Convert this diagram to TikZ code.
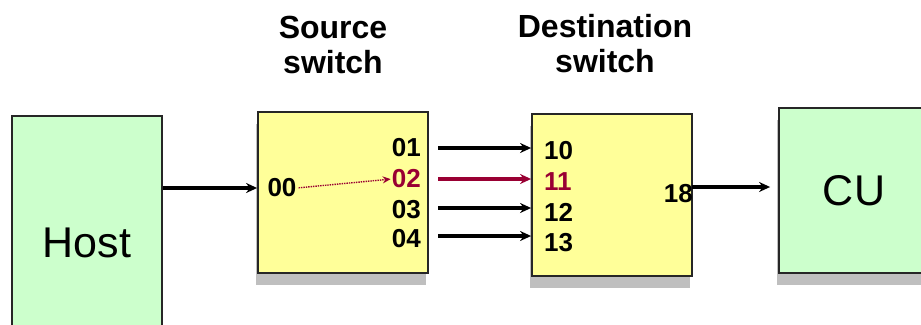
\documentclass[tikz,border=0pt]{standalone}
\usepackage{fontspec}
\setmainfont{Liberation Sans}
\usetikzlibrary{arrows.meta,positioning,shadows}
\definecolor{colorswitch}{HTML}{FFFF99}
\definecolor{colorend}{HTML}{CCFFCC}
\definecolor{colorpath}{HTML}{990033}
\tikzstyle{switchbox}=[rectangle, draw=black!85, line width=1.8pt, fill=colorswitch, inner sep=0pt, drop shadow={shadow xshift=-2pt, shadow yshift=-12pt, fill=black!25, opacity=1}]
\tikzstyle{endbox}=[rectangle, draw=black!85, line width=1.8pt, fill=colorend, inner sep=0pt, font=\fontsize{43}{46}\selectfont]
\tikzstyle{port}=[inner sep=0pt, font=\bfseries\fontsize{26}{28}\selectfont]
\tikzstyle{title}=[align=center, inner sep=0pt, font=\bfseries\fontsize{32}{35}\selectfont]
\tikzstyle{wire}=[->, line width=3.6pt]
\tikzstyle{dotpath}=[->, colorpath, line width=1.4pt, densely dotted, shorten <=2pt, shorten >=1pt, >={Stealth[length=8pt,width=7pt]}]
\begin{document}
\begin{tikzpicture}[x=1pt, y=-1pt, >={Stealth[length=11pt,width=10pt]}]
	\useasboundingbox (0,0) rectangle (921,324);
	\clip (0,0) rectangle (921,324);
	
	% boxes
	\node[endbox, minimum width=150pt, minimum height=254pt] at (87,243) (host) {Host};
	\node[switchbox, minimum width=170pt, minimum height=161pt] at (343,192.5) (src) {};
	\node[switchbox, minimum width=160pt, minimum height=162pt] at (612,195) (dst) {};
	\node[endbox, minimum width=150pt, minimum height=165pt, drop shadow={shadow xshift=-2pt, shadow yshift=-12pt, fill=black!25, opacity=1}] at (854,190.5) (cu) {CU};
	
	% titles
	\node[title] at (333,45) (srctitle) {Source\\switch};
	\node[title] at (605,44) (dsttitle) {Destination\\switch};
	
	% source switch ports
	\node[port] at (282,188) (p00) {00};
	\node[port, anchor=east] at (421,148) (p01) {01};
	\node[port, anchor=east, colorpath] at (421,179) (p02) {02};
	\node[port, anchor=east] at (421,210) (p03) {03};
	\node[port, anchor=east] at (421,239) (p04) {04};
	
	% destination switch ports
	\node[port, anchor=west] at (544,151) (p10) {10};
	\node[port, anchor=west, colorpath] at (544,182) (p11) {11};
	\node[port, anchor=west] at (544,212) (p12) {12};
	\node[port, anchor=west] at (544,243) (p13) {13};
	\node[port, anchor=east] at (693,194) (p18) {18};
	
	\draw[wire] (host.east |- p00) -- (p00 -| src.west);
	\draw[dotpath] (p00.east) -- (p02.west);
	\draw[wire] ([xshift=17pt]p01.east) -- (p01 -| dst.west);
	\draw[wire, colorpath] ([xshift=17pt]p02.east) -- (p02 -| dst.west);
	\draw[wire] ([xshift=17pt, yshift=2pt]p03.east) -- ([yshift=2pt]p03 -| dst.west);
	\draw[wire] ([xshift=17pt, yshift=3pt]p04.east) -- ([yshift=3pt]p04 -| dst.west);
	\draw[wire, shorten >=8pt] ([xshift=-1pt, yshift=7pt]p18.east) -- ([yshift=7pt]p18 -| cu.west);
	
\end{tikzpicture}
\end{document}
